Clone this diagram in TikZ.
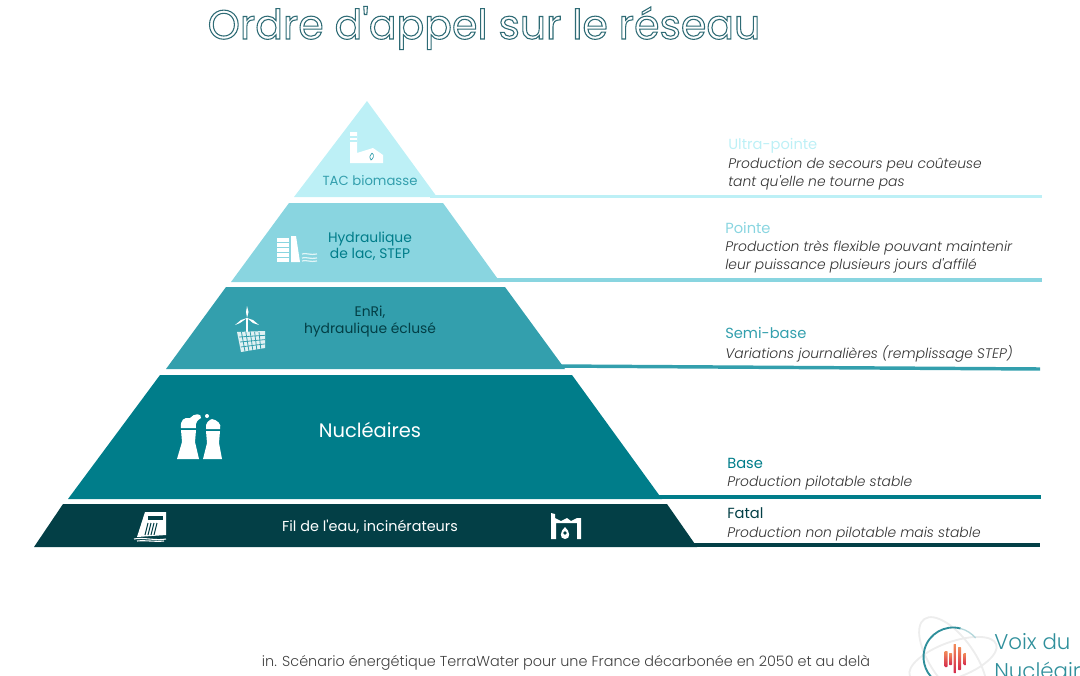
\documentclass[tikz,border=0pt]{standalone}
\usepackage{fontspec}
\setmainfont{Poppins Light}
\newfontfamily\medfont{Poppins}
\newfontfamily\itfont{Poppins Light Italic}
\newfontfamily\titlefont[FakeBold=2.6]{Poppins}
\usetikzlibrary{positioning}
\definecolor{tierA}{HTML}{BDF0F6}
\definecolor{tierB}{HTML}{89D5E0}
\definecolor{tierC}{HTML}{339FAD}
\definecolor{tierD}{HTML}{007D8A}
\definecolor{tierE}{HTML}{033F46}
\definecolor{logoTeal}{HTML}{2F8F9B}
\definecolor{logoOrange}{HTML}{F28C5A}
\definecolor{logoRed}{HTML}{D42A4C}
\tikzset{
    head/.style={anchor=west, inner sep=0pt, font=\medfont\fontsize{11}{13}\selectfont},
    descr/.style={anchor=west, inner sep=0pt, align=left, text=black!80, font=\itfont\fontsize{10.4}{13.5}\selectfont},
    tierlabel/.style={inner sep=0pt, align=center, font=\medfont\fontsize{10.4}{12.3}\selectfont},
    rail/.style={line width=2.6pt}
}
\begin{document}
\begin{tikzpicture}[x=0.75pt, y=-0.75pt]
    \useasboundingbox (0,0) rectangle (1080,675);

    % Title
    \node[inner sep=0pt] (title) at (484,28) {\special{pdf:bcolor [1 1 1] [0.18 0.42 0.46]}\titlefont\fontsize{30.75}{36}\selectfont Ordre d'appel sur le réseau\special{pdf:ecolor}};

    % Pyramid tiers
    \fill[tierA] (367,101) -- (437,197) -- (294,197) -- cycle;
    \fill[tierB] (289,203) -- (443,203) -- (500,282) -- (231,282) -- cycle;
    \fill[tierC] (226,287) -- (505,287) -- (565,369) -- (166,369) -- cycle;
    \fill[tierD] (160,375) -- (572,375) -- (662,499) -- (68,499) -- cycle;
    \fill[tierE] (63,504) -- (667,504) -- (697,547) -- (34,547) -- cycle;

    % Rails from the tiers
    \coordinate (railAs) at (430,196.5);  \coordinate (railAe) at (1042,196.5);
    \coordinate (railBs) at (490,280);  \coordinate (railBe) at (1042,280);
    \coordinate (railCs) at (555,366);  \coordinate (railCe) at (1040,369);
    \coordinate (railDs) at (655,497);  \coordinate (railDe) at (1041,497);
    \coordinate (railEs) at (690,545);  \coordinate (railEe) at (1040,545);
    \draw[rail, tierA] (railAs) -- (railAe);
    \draw[rail, tierB] (railBs) -- (railBe);
    \draw[rail, tierC] (railCs) -- (railCe);
    \draw[rail, tierD] (railDs) -- (railDe);
    \draw[rail, tierE] (railEs) -- (railEe);

    % Tier labels
    \node[tierlabel, text=tierC, font=\medfont\fontsize{9.9}{12.6}\selectfont] (tacLabel) at (370,181) {TAC biomasse};
    \node[tierlabel, text=tierD] (lacLabel) at (370,246) {Hydraulique\\de lac, STEP};
    \node[tierlabel, text=tierE] (enriLabel) at (370,321.5) {EnRi,\\hydraulique éclusé};
    \node[tierlabel, text=white, font=\medfont\fontsize{14.6}{16}\selectfont] (nucLabel) at (370,430) {Nucléaires};
    \node[tierlabel, text=white, font=\medfont\fontsize{10.8}{13}\selectfont] (filLabel) at (370,526.5) {Fil de l'eau, incinérateurs};

    % Right column
    \node[head, text=tierA] (ultraHead) at (728,146) {Ultra-pointe};
    \node[descr] (ultraText) at (728,174.5) {Production de secours peu coûteuse\\tant qu'elle ne tourne pas};
    \node[head, text=tierB] (pointeHead) at (725,228) {Pointe};
    \node[descr] (pointeText) at (725,256.5) {Production très flexible pouvant maintenir\\leur puissance plusieurs jours d'affilé};
    \node[head, text=tierC] (semiHead) at (725,333) {Semi-base};
    \node[descr] (semiText) at (725,353.5) {Variations journalières (remplissage STEP)};
    \node[head, text=tierD] (baseHead) at (727,463) {Base};
    \node[descr] (baseText) at (727,483.5) {Production pilotable stable};
    \node[head, text=tierE] (fatalHead) at (727,513) {Fatal};
    \node[descr] (fatalText) at (727,534.5) {Production non pilotable mais stable};

    % Biomass plant icon
    \fill[white] (350,132) -- (357,132) -- (357,153) -- (373,148) -- (383,155) -- (383,163) -- (350,163) -- cycle;
    \draw[tierA, line width=0.8pt] (350,137) -- (357,137) (350,141) -- (357,141);
    \draw[tierC, line width=0.5pt] (372,153) .. controls (375,155) and (373,159) .. (371,160) .. controls (369,157) and (370,155) .. (372,153);

    % Lake dam icon
    \foreach \y in {238,243,248,253,258}
        \fill[white] (277,\y) rectangle (289,\y+3.5);
    \fill[white] (291,262) -- (291,236) -- (296,236) -- (300,262) -- cycle;
    \foreach \y in {254,258,261}
        \draw[white!75!tierB, line width=0.9pt] (302,\y) .. controls (306,\y-1.5) and (310,\y+1.5) .. (317,\y);

    % Wind and solar icon
    \draw[white, line width=1pt] (247,318) -- (247,333);
    \fill[white] (247,318) -- (246,312) -- (247,306) -- (248.5,312) -- cycle;
    \fill[white] (247,318) -- (240,323) -- (235,325) -- (241,320) -- cycle;
    \fill[white] (247,318) -- (253,320) -- (259,325) -- (253,323) -- cycle;
    \fill[white!85!tierC] (237,332) -- (265,331) -- (265,348) -- (241,352) -- cycle;
    \foreach \x in {1,2,3,4,5}
        \draw[tierC, line width=0.6pt] (237+4.4*\x,331.8) -- (241+4*\x,351.4);
    \foreach \y in {1,2,3}
        \draw[tierC, line width=0.6pt] (238+0.9*\y,332+5*\y) -- (265,331+4.3*\y);

    % Cooling towers icon
    \fill[white] (181,430) -- (196,430) -- (195,442) -- (199,459) -- (177,459) -- (182,442) -- cycle;
    \fill[white] (206,431) -- (220,431) -- (219,443) -- (222,459) -- (203,459) -- (207,443) -- cycle;
    \fill[white] (181,428) .. controls (180,420) and (184,417) .. (190,418) .. controls (194,413) and (202,413) .. (201,418) .. controls (198,420) and (195,422) .. (196,428) -- cycle;
    \fill[white] (206,429) .. controls (205,423) and (209,420) .. (212,419) .. controls (217,420) and (222,424) .. (220,429) -- cycle;
    \fill[white] (207,416) circle (2);

    % Run-of-river icon
    \fill[white] (145,512) -- (166,512) -- (166,535) -- (137,537) -- cycle;
    \fill[tierE] (148,516) rectangle (163,520);
    \foreach \x in {0,1,2,3}
        \draw[tierE, line width=0.8pt] (148+3*\x,523) -- (145+3*\x,535);
    \draw[white, line width=0.8pt] (134,539) .. controls (143,537) and (155,541) .. (166,539);
    \draw[white, line width=0.8pt] (137,541) .. controls (145,540) and (155,542) .. (164,541);

    % Incinerator icon
    \fill[white] (551,513) -- (555,514) -- (555,518) -- (561,521) -- (567,518) -- (571,521) -- (577,518) -- (581,518) -- (581,539) -- (577,539) -- (577,523) -- (556,523) -- (556,539) -- (551,539) -- cycle;
    \fill[white] (565,527) .. controls (570,531) and (571,539) .. (565,539) .. controls (559,539) and (560,531) .. (565,527);
    \fill[tierE] (565,533) circle (1.8);

    % Footer
    \node[inner sep=0pt, text=black!75, font=\fontsize{10.8}{13}\selectfont] (source) at (566,662.5) {in. Scénario énergétique TerraWater pour une France décarbonée en 2050 et au delà};

    % Logo
    \draw[black!7, line width=1.4pt, rotate around={35:(953,660)}] (953,660) ellipse (22 and 50);
    \draw[black!7, line width=1.4pt, rotate around={-70:(953,660)}] (953,660) ellipse (18 and 46);
    \draw[logoTeal, line width=1.4pt] (953,657) ++(-75:29.5) arc[start angle=-75, end angle=-240, radius=29.5];
    \draw[logoTeal!35, line width=1pt] (953,657) ++(-40:29.5) arc[start angle=-40, end angle=-75, radius=29.5];
    \foreach \x/\t/\b in {946/651/667, 950.5/653/665, 955/644/673, 959.5/647/670, 965/653/665}
        \shade[top color=logoOrange, bottom color=logoRed, rounded corners=0.5pt] (\x-1.5,\t) rectangle (\x+1.5,\b);
    \node[anchor=west, inner sep=0pt, text=logoTeal, font=\fontsize{16}{20}\selectfont] (logoA) at (994,642) {Voix du};
    \node[anchor=west, inner sep=0pt, text=logoTeal, font=\fontsize{16}{20}\selectfont] (logoB) at (994,670) {Nucléaire};
\end{tikzpicture}
\end{document}
